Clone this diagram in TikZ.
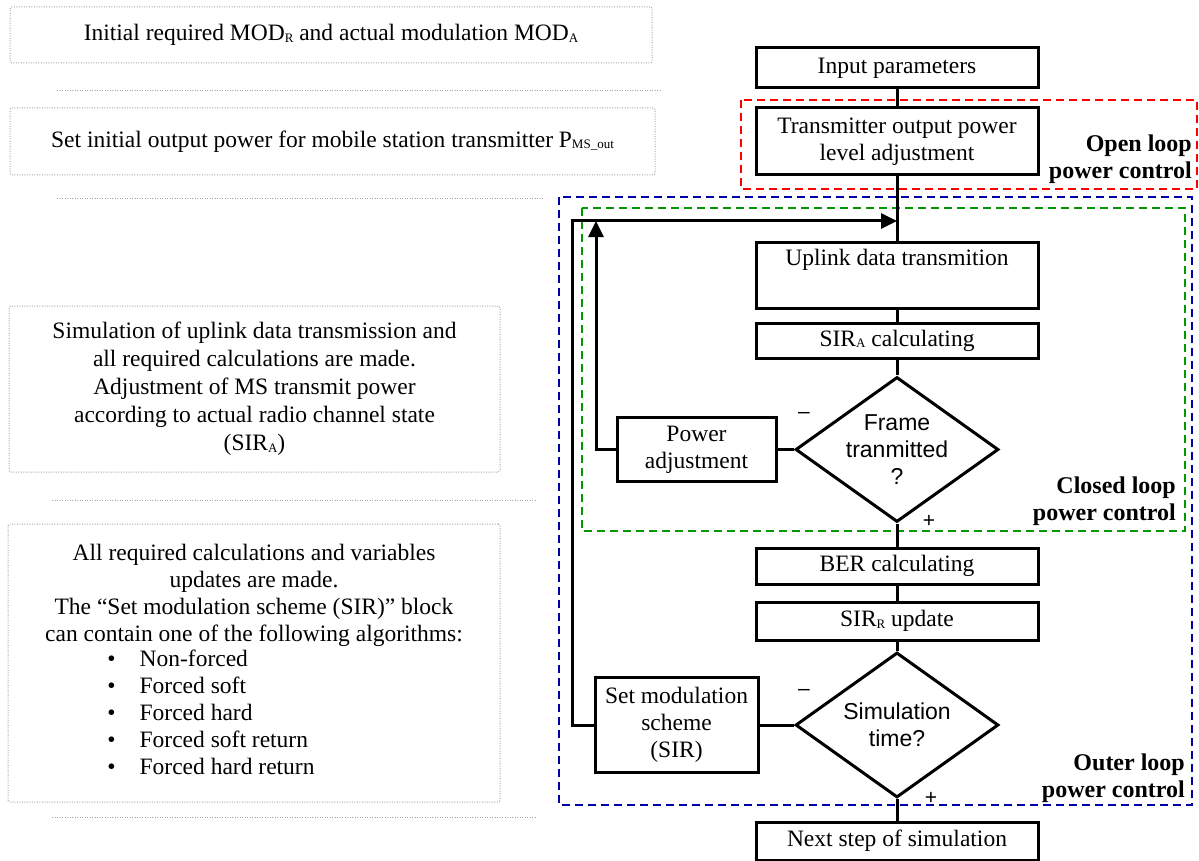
\documentclass[tikz,border=0pt]{standalone}
\usepackage{fontspec}
\setmainfont{Liberation Serif}
\newfontfamily\diafont{Liberation Sans}
\usetikzlibrary{shapes.geometric,arrows.meta}
\newcommand{\subidx}[1]{\raisebox{-1.5pt}{\fontsize{13}{13}\selectfont #1}}

\begin{document}
\begin{tikzpicture}[
  x=1pt, y=-1pt,
  font=\fontsize{23.5}{27}\selectfont,
  block/.style={draw, line width=3pt, minimum width=282pt, align=center, inner sep=2pt},
  decision/.style={draw, diamond, line width=3pt, minimum width=203pt, minimum height=145pt, inner sep=0pt},
  dtext/.style={font=\diafont\fontsize{23}{27}\selectfont, align=center},
  note/.style={draw=gray!70, dash pattern=on 1pt off 1.5pt, line width=1pt, rounded corners=2pt, align=center},
  sepline/.style={draw=gray!70, dash pattern=on 1pt off 1.5pt, line width=1pt},
  zone/.style={dash pattern=on 8pt off 5pt, line width=1.6pt},
  zonelabel/.style={font=\bfseries\fontsize{24}{27}\selectfont, align=right, anchor=east, inner sep=0pt},
  flow/.style={line width=3pt},
  loopback/.style={flow, -{Triangle[length=16pt,width=15pt]}},
  sign/.style={font=\diafont\fontsize{21}{21}\selectfont, inner sep=0pt},
]
  \useasboundingbox (0,0) rectangle (1199,861);

  % notes on the left
  \node[note, minimum width=642pt, minimum height=56pt] (initnote) at (331,35)
    {Initial required MOD\subidx{R} and actual modulation MOD\subidx{A}};
  \node[note, minimum width=645pt, minimum height=67pt] (powernote) at (332.5,141.5)
    {Set initial output power for mobile station transmitter P\subidx{MS\_out}};
  \node[note, minimum width=491pt, minimum height=166pt, font=\fontsize{23.5}{28}\selectfont] (uplinknote) at (254.5,389)
    {Simulation of uplink data transmission and\\all required calculations are made.\\Adjustment of MS transmit power\\according to actual radio channel state\\(SIR\subidx{A})};
  \node[note, minimum width=492pt, minimum height=278pt] (algonote) at (254,663)
    {All required calculations and variables\\updates are made.\\The “Set modulation scheme (SIR)” block\\can contain one of the following algorithms:\\
     \hspace*{-86pt}\begin{tabular}{@{}l@{\hspace{24pt}}l@{}}
       • & Non-forced\\
       • & Forced soft\\
       • & Forced hard\\
       • & Forced soft return\\
       • & Forced hard return
     \end{tabular}};
  \draw[sepline] (57,91) -- (660,91);
  \draw[sepline] (57,199) -- (543,199);
  \draw[sepline] (52,500) -- (537,500);
  \draw[sepline] (52,817) -- (537,817);

  % control zones
  \draw[zone, red] (741,100) rectangle (1197,189);
  \draw[zone, blue!65!black] (559,197) rectangle (1192,805);
  \draw[zone, green!60!black] (582,208) rectangle (1185,531);
  \node[zonelabel] (openlbl) at (1192,159) {Open loop\\power control};
  \node[zonelabel] (closedlbl) at (1176,501) {Closed loop\\power control};
  \node[zonelabel] (outerlbl) at (1185,778) {Outer loop\\power control};

  % main flow
  \node[block, minimum height=40pt] (input) at (897,68) {Input parameters};
  \node[block, minimum height=67pt] (txpower) at (897,141.5) {Transmitter output power\\level adjustment};
  \node[block, minimum height=66pt] (uplink) at (897,275) {Uplink data transmition\\\strut};
  \node[block, minimum height=35pt] (sira) at (897,340.5) {SIR\subidx{A} calculating};
  \node[decision, label={[dtext]center:Frame\\tranmitted\\?}] (frame) at (897,449.5) {};
  \node[block, minimum width=159pt, minimum height=64pt] (poweradj) at (696.5,449.5) {Power\\adjustment};
  \node[block, minimum height=36pt] (ber) at (897,566) {BER calculating};
  \node[block, minimum height=38pt] (sirr) at (897,621) {SIR\subidx{R} update};
  \node[decision, label={[dtext]center:Simulation\\time?}] (simtime) at (897,725) {};
  \node[block, minimum width=163pt, minimum height=95pt] (setmod) at (676.5,725) {Set modulation\\scheme\\(SIR)};
  \node[block, minimum height=38pt] (next) at (897,841) {Next step of simulation};

  \node[sign] (minusA) at (804,415) {–};
  \node[sign] (plusA) at (929,521) {+};
  \node[sign] (minusB) at (804,692) {–};
  \node[sign] (plusB) at (931,798) {+};

  \coordinate (junction) at (897,221);
  \coordinate (innerturn) at (596,221);
  \coordinate (outerturn) at (572,221);

  \draw[flow] (input) -- (txpower);
  \draw[flow] (txpower) -- (uplink);
  \draw[flow] (uplink) -- (sira);
  \draw[flow] (sira) -- (frame);
  \draw[flow] (frame) -- (ber);
  \draw[flow] (ber) -- (sirr);
  \draw[flow] (sirr) -- (simtime);
  \draw[flow] (simtime) -- (next);
  \draw[flow] (frame) -- (poweradj);
  \draw[flow] (simtime) -- (setmod);
  \draw[loopback] (poweradj.west) -| (innerturn);
  \draw[loopback] (setmod.west) -| (outerturn) -- (junction);
\end{tikzpicture}
\end{document}
